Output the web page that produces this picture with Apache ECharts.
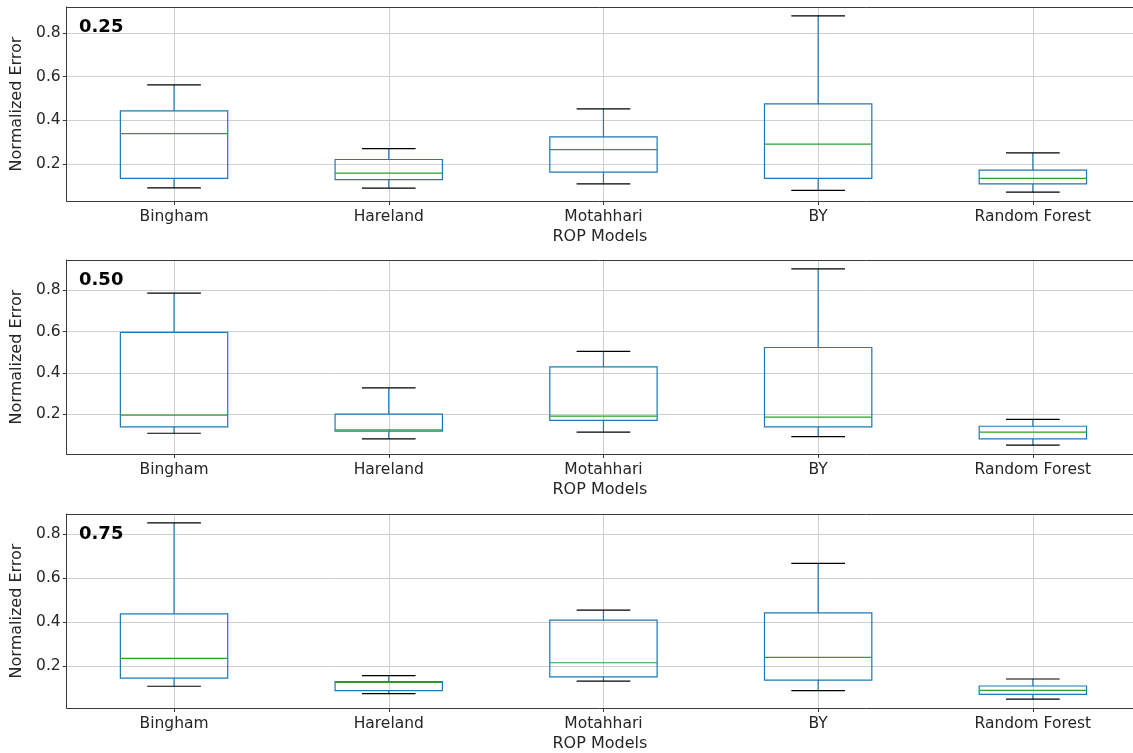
<!DOCTYPE html>
<html>
<head>
<meta charset="utf-8">
<script src="https://cdn.jsdelivr.net/npm/echarts@6/dist/echarts.min.js"></script>
<style>
  html, body { margin: 0; padding: 0; background: #fff; }
  #chart { width: 1133px; height: 753px; }
</style>
</head>
<body>
<div id="chart"></div>
<script>
// ROP model error distributions at three fractions
const models = ['Bingham', 'Hareland', 'Motahhari', 'BY', 'Random Forest'];
const panelLabels = ['0.25', '0.50', '0.75'];
const yTickValues = [0.2, 0.4, 0.6, 0.8];

// each row: [lower whisker, Q1, median, Q3, upper whisker]
const stats025 = [
  [0.090, 0.133, 0.339, 0.443, 0.562],
  [0.089, 0.128, 0.157, 0.220, 0.270],
  [0.108, 0.162, 0.265, 0.324, 0.452],
  [0.078, 0.133, 0.290, 0.475, 0.879],
  [0.070, 0.108, 0.133, 0.171, 0.250]
];
const stats050 = [
  [0.107, 0.138, 0.195, 0.597, 0.787],
  [0.080, 0.117, 0.123, 0.200, 0.327],
  [0.112, 0.169, 0.190, 0.429, 0.504],
  [0.091, 0.138, 0.185, 0.523, 0.905],
  [0.049, 0.080, 0.112, 0.141, 0.174]
];
const stats075 = [
  [0.108, 0.145, 0.235, 0.438, 0.853],
  [0.074, 0.088, 0.126, 0.129, 0.156],
  [0.131, 0.151, 0.215, 0.409, 0.455],
  [0.088, 0.136, 0.240, 0.442, 0.668],
  [0.049, 0.071, 0.089, 0.109, 0.141]
];
const panels = [stats025, stats050, stats075];

const FONT = 'DejaVu Sans';
const BOX_COLOR = '#1f77b4';
const MEDIAN_COLOR = '#2ca02c';
const CAP_COLOR = '#000000';
const GRID_COLOR = '#cfcfcf';
const SPINE_COLOR = '#3a3a3a';
const TEXT_COLOR = '#262626';

const gridTops = [7, 260, 514];
const gridHeight = 194;
const gridLeft = 66.7;
const pxPerSlot = 214.7;                  // horizontal distance between neighbouring models
const gridWidth = 1133 - gridLeft;        // plot runs to the page's right edge (right spine off-page)
const xMin = 0.5;
const xMax = xMin + gridWidth / pxPerSlot;
const xPositions = models.map((_, i) => i + 1);

function renderBox(params, api) {
  const x = api.value(0);
  const lo = api.value(1), q1 = api.value(2), med = api.value(3),
        q3 = api.value(4), hi = api.value(5);
  const halfBox = api.size([0.25, 0])[0];
  const halfCap = api.size([0.125, 0])[0];
  const pLo = api.coord([x, lo]);
  const pQ1 = api.coord([x, q1]);
  const pMed = api.coord([x, med]);
  const pQ3 = api.coord([x, q3]);
  const pHi = api.coord([x, hi]);
  const cx = pMed[0];
  const lw = 1.2;
  const line = (x1, y1, x2, y2, color) => ({
    type: 'line',
    shape: { x1, y1, x2, y2 },
    style: { stroke: color, lineWidth: lw }
  });
  return {
    type: 'group',
    children: [
      line(cx, pQ1[1], cx, pLo[1], BOX_COLOR),
      line(cx, pQ3[1], cx, pHi[1], BOX_COLOR),
      line(cx - halfCap, pLo[1], cx + halfCap, pLo[1], CAP_COLOR),
      line(cx - halfCap, pHi[1], cx + halfCap, pHi[1], CAP_COLOR),
      {
        type: 'rect',
        shape: { x: cx - halfBox, y: pQ3[1], width: halfBox * 2, height: pQ1[1] - pQ3[1] },
        style: { fill: 'none', stroke: BOX_COLOR, lineWidth: lw }
      },
      line(cx - halfBox, pMed[1], cx + halfBox, pMed[1], MEDIAN_COLOR)
    ]
  };
}

const grids = [], xAxes = [], yAxes = [], series = [], titles = [];
panels.forEach((stats, p) => {
  let dMin = Infinity, dMax = -Infinity;
  stats.forEach(s => { dMin = Math.min(dMin, s[0]); dMax = Math.max(dMax, s[4]); });
  const pad = (dMax - dMin) * 0.05;

  grids.push({
    left: gridLeft, top: gridTops[p], width: gridWidth, height: gridHeight, show: false
  });
  // bottom axis with model names
  xAxes.push({
    type: 'value', gridIndex: p, min: xMin, max: xMax, position: 'bottom',
    name: 'ROP Models', nameLocation: 'middle', nameGap: 28,
    nameTextStyle: { fontFamily: FONT, fontSize: 16, color: TEXT_COLOR },
    axisLine: { show: true, lineStyle: { color: SPINE_COLOR, width: 1 } },
    axisTick: { show: true, length: 4, customValues: xPositions, lineStyle: { color: SPINE_COLOR } },
    axisLabel: {
      customValues: xPositions, margin: 8,
      fontFamily: FONT, fontSize: 15.5, color: TEXT_COLOR,
      formatter: v => models[Math.round(v) - 1]
    },
    splitLine: { show: true, lineStyle: { color: GRID_COLOR, width: 1 } }
  });
  // top spine
  xAxes.push({
    type: 'value', gridIndex: p, min: xMin, max: xMax, position: 'top',
    axisLine: { show: true, onZero: false, lineStyle: { color: SPINE_COLOR, width: 1 } },
    axisTick: { show: false }, axisLabel: { show: false }, splitLine: { show: false }
  });
  yAxes.push({
    type: 'value', gridIndex: p, min: dMin - pad, max: dMax + pad,
    name: 'Normalized Error', nameLocation: 'middle', nameGap: 36,
    nameTextStyle: { fontFamily: FONT, fontSize: 16, color: TEXT_COLOR },
    axisLine: { show: true, onZero: false, lineStyle: { color: SPINE_COLOR, width: 1 } },
    axisTick: { show: true, length: 4, customValues: yTickValues, lineStyle: { color: SPINE_COLOR } },
    axisLabel: {
      customValues: yTickValues, margin: 6,
      fontFamily: FONT, fontSize: 15.5, color: TEXT_COLOR,
      formatter: v => v.toFixed(1)
    },
    splitLine: { show: true, lineStyle: { color: GRID_COLOR, width: 1 } }
  });
  series.push({
    type: 'custom', xAxisIndex: p * 2, yAxisIndex: p,
    renderItem: renderBox,
    encode: { x: 0, y: [1, 2, 3, 4, 5] },
    data: stats.map((s, i) => [xPositions[i]].concat(s)),
    clip: false, silent: true
  });
  titles.push({
    text: panelLabels[p], left: 79, top: gridTops[p] + 11, padding: 0,
    textStyle: { fontFamily: FONT, fontSize: 18, fontWeight: 'bold', color: '#000' }
  });
});

const chart = echarts.init(document.getElementById('chart'), null, { renderer: 'canvas' });
chart.setOption({
  animation: false,
  backgroundColor: '#ffffff',
  title: titles,
  grid: grids,
  xAxis: xAxes,
  yAxis: yAxes,
  series: series
});
</script>
</body>
</html>
